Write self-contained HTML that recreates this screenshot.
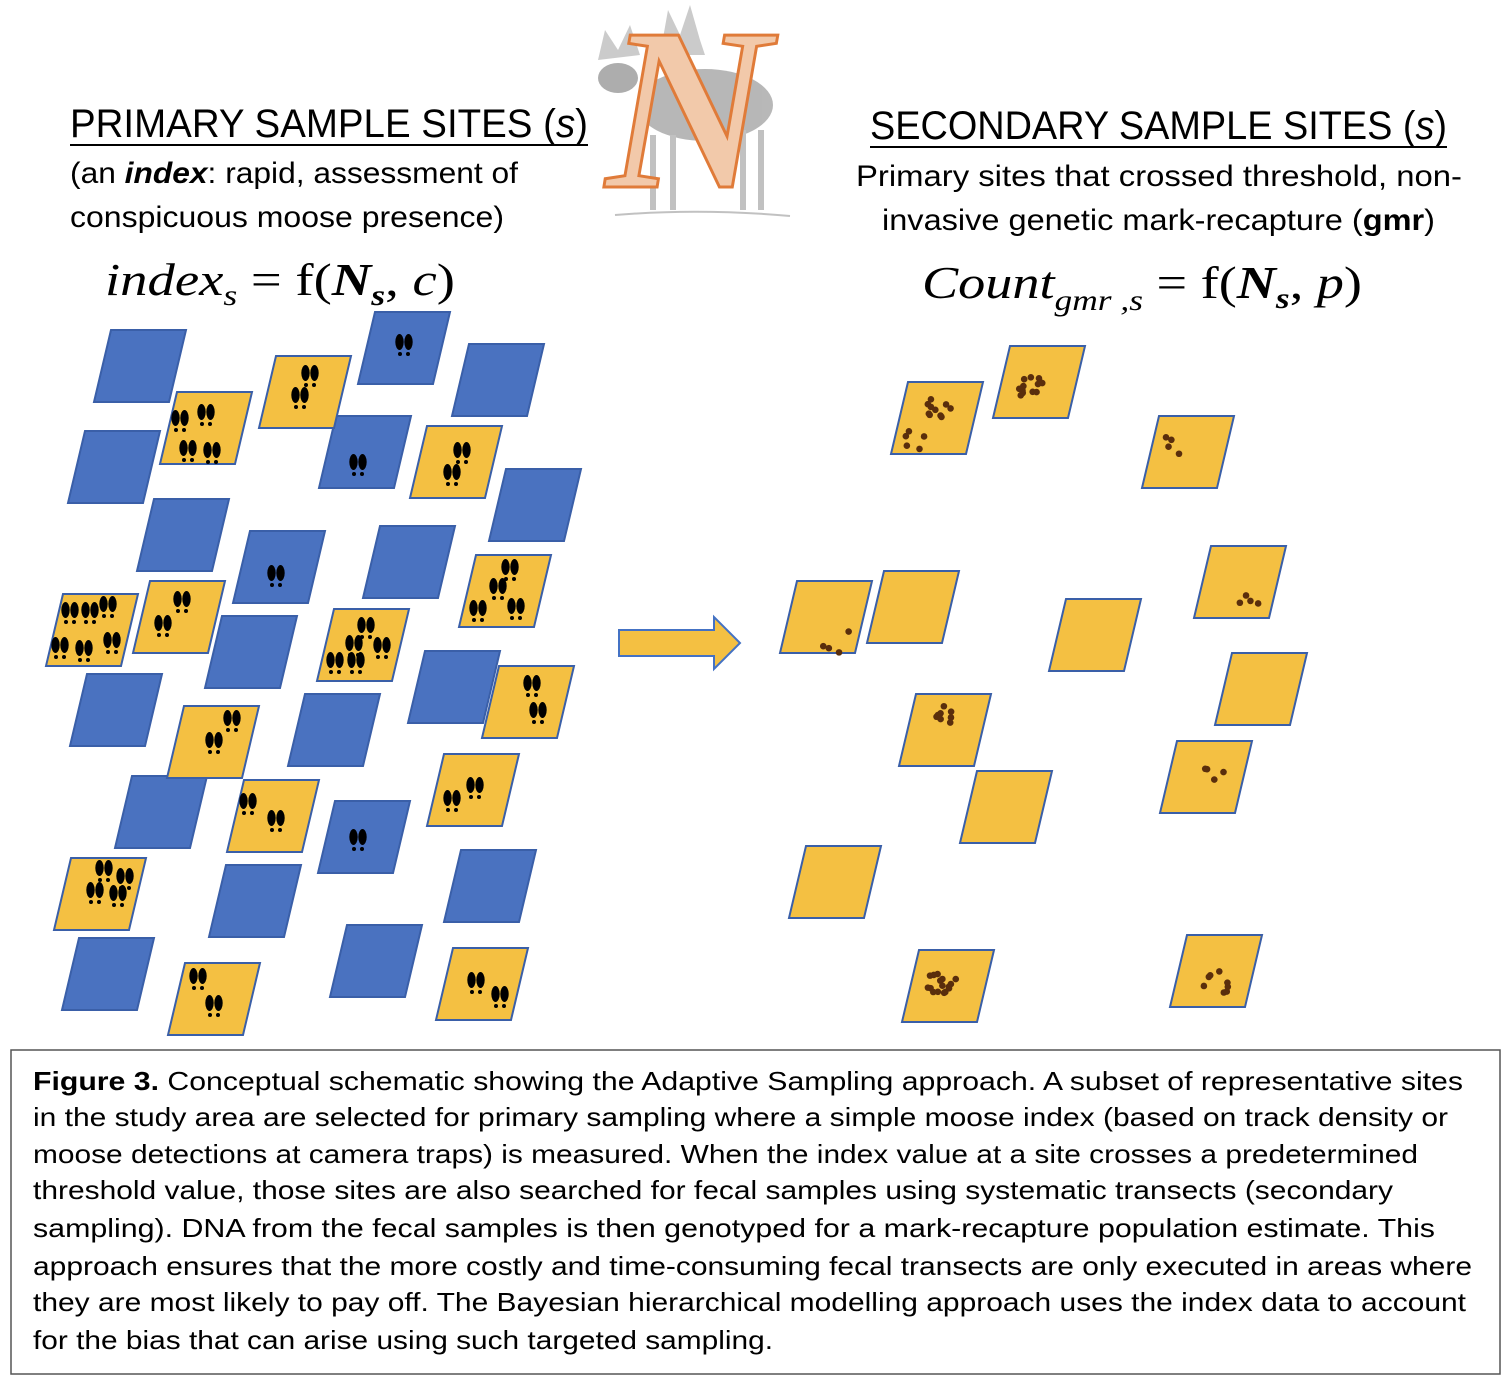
<!DOCTYPE html>
<html><head><meta charset="utf-8"><style>
html,body{margin:0;padding:0;background:#fff;}
svg{display:block}
</style></head><body>
<svg id="s" width="1510" height="1382" viewBox="0 0 1510 1382" xmlns="http://www.w3.org/2000/svg">
<g id="moose" opacity="0.6">
 <ellipse cx="705" cy="105" rx="68" ry="36" fill="#888"/>
 <ellipse cx="618" cy="78" rx="20" ry="15" fill="#777"/>
 <path d="M598 60 L605 30 L618 50 L630 25 L640 55 Z" fill="#aaa"/>
 <path d="M660 55 L668 10 L680 35 L690 5 L700 40 L705 55 Z" fill="#aaa"/>
 <rect x="650" y="135" width="6" height="75" fill="#999"/>
 <rect x="670" y="135" width="6" height="75" fill="#999"/>
 <rect x="740" y="130" width="6" height="80" fill="#999"/>
 <rect x="758" y="130" width="6" height="80" fill="#999"/>
 <path d="M615 215 Q700 208 790 216" stroke="#999" stroke-width="2" fill="none"/>
</g>
<text x="606" y="187" font-family="Liberation Serif" font-weight="bold" font-style="italic" font-size="232" fill="#f2c9aa" stroke="#e07b39" stroke-width="3" textLength="165" lengthAdjust="spacingAndGlyphs">N</text>

<g font-family="Liberation Sans, sans-serif" fill="#000">
<text x="70" y="137" font-size="40" textLength="518" lengthAdjust="spacingAndGlyphs">PRIMARY SAMPLE SITES (<tspan font-style="italic">s</tspan>)</text>
<line x1="70" y1="145" x2="588" y2="145" stroke="#000" stroke-width="2"/>
<text x="70" y="183" font-size="30" textLength="448" lengthAdjust="spacingAndGlyphs">(an <tspan font-weight="bold" font-style="italic">index</tspan>: rapid, assessment of</text>
<text x="70" y="227" font-size="30" textLength="434" lengthAdjust="spacingAndGlyphs">conspicuous moose presence)</text>
<text x="870" y="139" font-size="40" textLength="577" lengthAdjust="spacingAndGlyphs">SECONDARY SAMPLE SITES (<tspan font-style="italic">s</tspan>)</text>
<line x1="870" y1="147" x2="1447" y2="147" stroke="#000" stroke-width="2"/>
<text x="856" y="186" font-size="30" textLength="606" lengthAdjust="spacingAndGlyphs">Primary sites that crossed threshold, non-</text>
<text x="882" y="230" font-size="30" textLength="553" lengthAdjust="spacingAndGlyphs">invasive genetic mark-recapture (<tspan font-weight="bold">gmr</tspan>)</text>
</g>
<g font-family="Liberation Serif, serif" font-size="46">
<text x="105" y="295" textLength="350" lengthAdjust="spacingAndGlyphs"><tspan font-style="italic">index</tspan><tspan font-style="italic" font-size="30" dy="10">s</tspan><tspan dy="-10"> = f(</tspan><tspan font-weight="bold" font-style="italic">N</tspan><tspan font-weight="bold" font-style="italic" font-size="30" dy="10">s</tspan><tspan dy="-10">, </tspan><tspan font-style="italic">c</tspan>)</text>
<text x="922" y="298" textLength="440" lengthAdjust="spacingAndGlyphs"><tspan font-style="italic">Count</tspan><tspan font-style="italic" font-size="30" dy="12">gmr ,s</tspan><tspan dy="-12"> = f(</tspan><tspan font-weight="bold" font-style="italic">N</tspan><tspan font-weight="bold" font-style="italic" font-size="30" dy="10">s</tspan><tspan dy="-10">, </tspan><tspan font-style="italic">p</tspan>)</text>
</g>
<g id="shapes"></g>
<path d="M619 630 L714 630 L714 617 L740 643 L714 669 L714 656 L619 656 Z" fill="#f4c042" stroke="#4472c4" stroke-width="2"/>
<rect x="11" y="1050" width="1489" height="324" fill="none" stroke="#555" stroke-width="1.5"/>
<g font-family="Liberation Sans, sans-serif" font-size="26" fill="#000">
<text x="33" y="1090" textLength="1430" lengthAdjust="spacingAndGlyphs"><tspan font-weight="bold">Figure 3.</tspan> Conceptual schematic showing the Adaptive Sampling approach.  A subset of representative sites</text>
<text x="33" y="1126" textLength="1415" lengthAdjust="spacingAndGlyphs">in the study area are selected for primary sampling where a simple moose index (based on track density or</text>
<text x="33" y="1163" textLength="1385" lengthAdjust="spacingAndGlyphs">moose detections at camera traps) is measured. When the index value at a site crosses a predetermined</text>
<text x="33" y="1199" textLength="1360" lengthAdjust="spacingAndGlyphs">threshold value, those sites are also searched for fecal samples using systematic transects (secondary</text>
<text x="33" y="1237" textLength="1402" lengthAdjust="spacingAndGlyphs">sampling).  DNA from the fecal samples is then genotyped for a mark-recapture population estimate.  This</text>
<text x="33" y="1275" textLength="1439" lengthAdjust="spacingAndGlyphs">approach ensures that the more costly and time-consuming fecal transects are only executed in areas where</text>
<text x="33" y="1311" textLength="1433" lengthAdjust="spacingAndGlyphs">they are most likely to pay off. The Bayesian hierarchical modelling approach uses the index data to account</text>
<text x="33" y="1349" textLength="740" lengthAdjust="spacingAndGlyphs">for the bias that can arise using such targeted sampling.</text>
</g>
</svg>
<script>
var g=document.getElementById('shapes'),h='';
function par(cx,cy,f){return '<polygon points="'+(cx-29)+','+(cy-36)+' '+(cx+46)+','+(cy-36)+' '+(cx+29)+','+(cy+36)+' '+(cx-46)+','+(cy+36)+'" fill="'+f+'" stroke="#3a5fa8" stroke-width="2"/>';}
function hoof(x,y){return '<ellipse cx="'+(x-4.5)+'" cy="'+y+'" rx="4.2" ry="8" fill="#000"/><ellipse cx="'+(x+4.5)+'" cy="'+y+'" rx="4.2" ry="8" fill="#000"/><circle cx="'+(x-4)+'" cy="'+(y+12)+'" r="2" fill="#000"/><circle cx="'+(x+4)+'" cy="'+(y+12)+'" r="2" fill="#000"/>';}
function dots(cx,cy,n,seed){var s='';for(var i=0;i<n;i++){seed=(seed*9301+49297)%233280;var a=seed/233280;seed=(seed*9301+49297)%233280;var b=seed/233280;s+='<circle cx="'+(cx+(a-0.5)*30)+'" cy="'+(cy+(b-0.5)*22)+'" r="3.3" fill="#5a2e0c"/>';}return s;}
var B='#4a72c0',Y='#f4c042';
[[140,366],[404,348],[498,380],[114,467],[365,452],[535,505],[183,535],[279,567],[409,562],[251,652],[454,687],[116,710],[334,730],[161,812],[364,837],[255,901],[490,886],[108,974],[376,961]].forEach(function(p){h+=par(p[0],p[1],B);});
[[404,342],[358,462],[276,573],[358,837]].forEach(function(p){h+=hoof(p[0],p[1]);});
var ys=[[206,428,[[180,418],[206,412],[188,448],[212,450]]],[305,392,[[310,373],[300,395]]],[456,462,[[462,450],[452,472]]],[505,591,[[510,567],[498,586],[478,608],[516,606]]],[92,630,[[70,610],[90,610],[108,604],[60,645],[84,648],[112,640]]],[179,617,[[182,599],[163,623]]],[363,645,[[366,625],[354,643],[382,645],[335,660],[356,660]]],[528,702,[[532,683],[538,710]]],[213,742,[[232,718],[214,740]]],[273,816,[[248,801],[276,818]]],[473,790,[[475,785],[452,798]]],[100,894,[[104,868],[125,876],[95,890],[118,893]]],[214,999,[[198,976],[214,1003]]],[482,984,[[476,980],[500,994]]]];
ys.forEach(function(p){h+=par(p[0],p[1],Y);p[2].forEach(function(q){h+=hoof(q[0],q[1]);});});
[[937,418,[[937,408,10],[915,440,5]]],[1039,382,[[1032,388,13]]],[1188,452,[[1176,448,4]]],[826,617,[[836,642,4]]],[913,607,[]],[1095,635,[]],[1240,582,[[1246,596,4]]],[1261,689,[]],[945,730,[[942,717,8]]],[1006,807,[]],[1206,777,[[1210,776,4]]],[835,882,[]],[948,986,[[942,984,16]]],[1216,971,[[1214,982,8]]]].forEach(function(p,i){h+=par(p[0],p[1],Y);p[2].forEach(function(q){h+=dots(q[0],q[1],q[2],i*37+11);});});
g.innerHTML=h;
</script>
</body></html>
